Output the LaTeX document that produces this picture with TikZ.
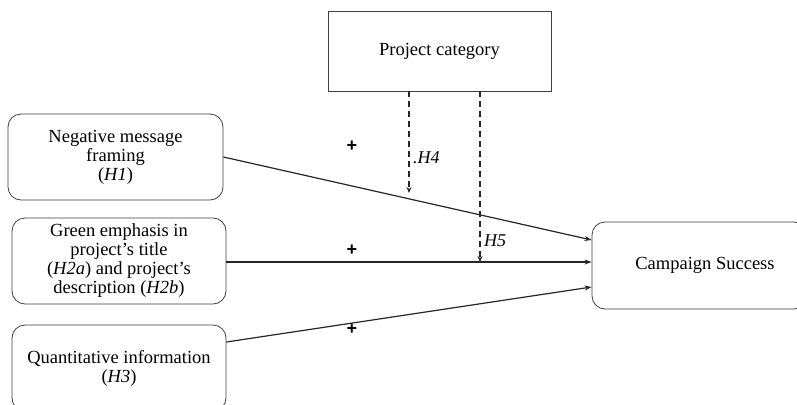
\documentclass[tikz,border=0pt]{standalone}
\usepackage{fontspec}
\setmainfont{Liberation Serif}
\setsansfont{Liberation Sans}
\usetikzlibrary{arrows.meta}
\begin{document}
\begin{tikzpicture}[x=1pt,y=-1pt,
  every node/.style={font=\fontsize{18.5}{19}\selectfont, align=center, inner sep=0pt},
  rbox/.style={draw=black!75, line width=0.8pt, rounded corners=13pt},
  conn/.style={draw=black!85, line width=1.2pt, -{Stealth[length=7pt,width=5pt]}},
  mod/.style={draw=black!85, line width=1.8pt, dash pattern=on 6pt off 4pt, -{Stealth[length=6pt,width=5pt]}},
  plus/.style={font=\sffamily\bfseries\fontsize{18}{18}\selectfont},
  hlab/.style={font=\itshape\fontsize{18}{18}\selectfont, anchor=west}]
\useasboundingbox (0,0) rectangle (797,404);
\fill[white] (0,0) rectangle (797,404);
\node[rbox, minimum width=215pt, minimum height=86pt] (h1) at (115.5,157) {Negative message\\framing\\(\textit{H1})};
\node[rbox, minimum width=214pt, minimum height=86pt] (h2) at (119,261) {Green emphasis in\\project’s title\\(\textit{H2a}) and project’s\\description (\textit{H2b})};
\node[rbox, minimum width=214pt, minimum height=86pt] (h3) at (119,368) {Quantitative information\\(\textit{H3})};
\node[rbox, minimum width=215pt, minimum height=87pt] (cs) at (699.5,265.5) {\hspace*{11pt}Campaign Success};
\node[draw=black!75, line width=0.8pt, minimum width=223pt, minimum height=80pt] (pc) at (439.5,51) {Project category};
\coordinate (m4) at (409,193);
\coordinate (m5) at (480,262);
\draw[conn] (h1.east) -- ([yshift=25.5pt]cs.west);
\draw[conn] ([yshift=-1pt]h2.east) -- ([yshift=3.5pt]cs.west);
\draw[conn] ([yshift=26pt]h3.east) -- ([yshift=-21.5pt]cs.west);
\draw[mod] (pc.south -| m4) -- (m4);
\draw[mod] (pc.south -| m5) -- (m5);
\node[hlab] (l4) at (413,158) {.H4};
\node[hlab] (l5) at (484,241) {H5};
\node[plus] (p1) at (352,146) {+};
\node[plus] (p2) at (352,250) {+};
\node[plus] (p3) at (352,329) {+};
\end{tikzpicture}
\end{document}
